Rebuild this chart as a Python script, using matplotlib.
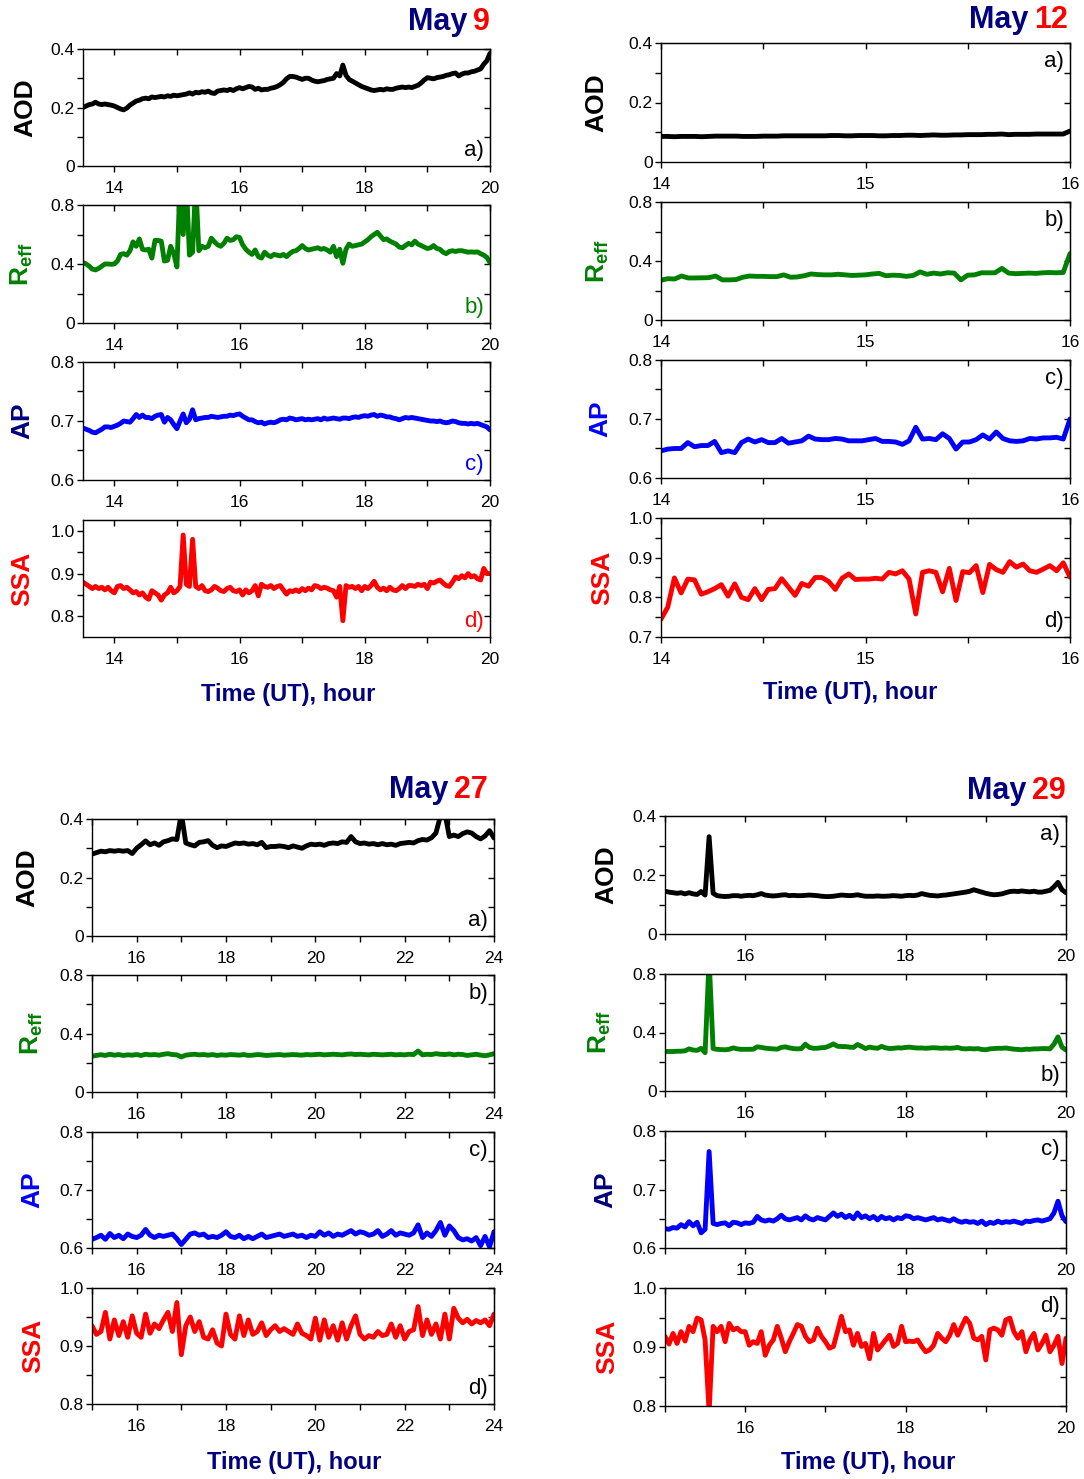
import numpy as np
import matplotlib
matplotlib.use("Agg")
import matplotlib.pyplot as plt
from matplotlib.ticker import FixedLocator, FuncFormatter, NullFormatter

plt.rcParams['font.family'] = ['Liberation Sans', 'DejaVu Sans']
plt.rcParams['mathtext.fontset'] = 'custom'
plt.rcParams['mathtext.rm'] = 'Liberation Sans'
plt.rcParams['mathtext.bf'] = 'Liberation Sans:bold'
plt.rcParams['mathtext.it'] = 'Liberation Sans:italic'

W, H = 1084, 1479
NAVY = '#000080'
GREEN = '#008000'
BLUE = '#0000ff'
RED = '#ff0000'

may9_span = (13.5, 20.0)
may9_aod = [
    0.200, 0.205, 0.210, 0.212, 0.218, 0.212, 0.210, 0.212, 0.210, 0.208,
    0.205, 0.200, 0.195, 0.192, 0.198, 0.208, 0.215, 0.222, 0.225, 0.230,
    0.232, 0.230, 0.236, 0.234, 0.236, 0.238, 0.236, 0.240, 0.238, 0.242,
    0.240, 0.242, 0.244, 0.246, 0.250, 0.246, 0.252, 0.250, 0.254, 0.252,
    0.256, 0.250, 0.248, 0.256, 0.258, 0.260, 0.258, 0.262, 0.258, 0.264,
    0.268, 0.264, 0.268, 0.272, 0.270, 0.262, 0.266, 0.260, 0.262, 0.262,
    0.266, 0.268, 0.272, 0.278, 0.286, 0.298, 0.306, 0.306, 0.304, 0.300,
    0.296, 0.300, 0.300, 0.294, 0.290, 0.288, 0.290, 0.292, 0.296, 0.298,
    0.300, 0.316, 0.308, 0.345, 0.310, 0.296, 0.290, 0.284, 0.278, 0.272,
    0.268, 0.264, 0.260, 0.258, 0.260, 0.262, 0.260, 0.264, 0.262, 0.262,
    0.266, 0.268, 0.270, 0.268, 0.270, 0.268, 0.272, 0.276, 0.284, 0.294,
    0.302, 0.300, 0.298, 0.302, 0.304, 0.306, 0.310, 0.312, 0.316, 0.318,
    0.308, 0.314, 0.318, 0.318, 0.322, 0.324, 0.328, 0.332, 0.348, 0.360,
    0.385]
may9_reff = [
    0.410, 0.400, 0.385, 0.365, 0.360, 0.370, 0.385, 0.400, 0.400, 0.398,
    0.400, 0.420, 0.465, 0.470, 0.460, 0.490, 0.550, 0.520, 0.570, 0.500,
    0.495, 0.500, 0.440, 0.560, 0.560, 0.555, 0.420, 0.425, 0.520, 0.470,
    0.380, 0.950, 0.600, 0.950, 0.460, 0.480, 0.950, 0.490, 0.520, 0.510,
    0.520, 0.575, 0.550, 0.530, 0.520, 0.540, 0.575, 0.560, 0.565, 0.585,
    0.580, 0.530, 0.500, 0.480, 0.465, 0.495, 0.450, 0.440, 0.480, 0.460,
    0.450, 0.465, 0.460, 0.455, 0.465, 0.450, 0.470, 0.485, 0.490, 0.505,
    0.525, 0.505, 0.495, 0.500, 0.505, 0.510, 0.500, 0.505, 0.495, 0.480,
    0.520, 0.450, 0.500, 0.405, 0.500, 0.535, 0.520, 0.525, 0.530, 0.535,
    0.550, 0.565, 0.585, 0.600, 0.615, 0.590, 0.565, 0.570, 0.555, 0.545,
    0.535, 0.515, 0.510, 0.525, 0.540, 0.530, 0.555, 0.535, 0.525, 0.515,
    0.505, 0.510, 0.525, 0.505, 0.500, 0.480, 0.470, 0.485, 0.490, 0.485,
    0.490, 0.490, 0.485, 0.480, 0.482, 0.480, 0.482, 0.470, 0.460, 0.445,
    0.410]
may9_ap = [
    0.688, 0.686, 0.684, 0.681, 0.680, 0.683, 0.686, 0.690, 0.690, 0.689,
    0.691, 0.693, 0.696, 0.700, 0.699, 0.698, 0.704, 0.711, 0.706, 0.710,
    0.706, 0.706, 0.704, 0.708, 0.710, 0.711, 0.698, 0.706, 0.702, 0.694,
    0.687, 0.700, 0.712, 0.697, 0.703, 0.719, 0.702, 0.704, 0.705, 0.706,
    0.706, 0.708, 0.707, 0.706, 0.707, 0.708, 0.708, 0.710, 0.709, 0.711,
    0.712, 0.708, 0.705, 0.702, 0.702, 0.699, 0.697, 0.698, 0.695, 0.697,
    0.698, 0.697, 0.699, 0.702, 0.703, 0.702, 0.705, 0.704, 0.702, 0.703,
    0.704, 0.702, 0.703, 0.702, 0.703, 0.704, 0.702, 0.705, 0.703, 0.704,
    0.705, 0.704, 0.703, 0.705, 0.705, 0.704, 0.706, 0.707, 0.706, 0.708,
    0.709, 0.708, 0.710, 0.711, 0.708, 0.710, 0.709, 0.707, 0.707, 0.705,
    0.704, 0.702, 0.704, 0.706, 0.705, 0.706, 0.705, 0.704, 0.703, 0.702,
    0.701, 0.700, 0.700, 0.699, 0.700, 0.698, 0.697, 0.698, 0.700, 0.699,
    0.697, 0.696, 0.696, 0.695, 0.696, 0.695, 0.696, 0.694, 0.692, 0.690,
    0.685]
may9_ssa = [
    0.880, 0.875, 0.870, 0.865, 0.870, 0.865, 0.868, 0.862, 0.868, 0.860,
    0.855, 0.870, 0.872, 0.865, 0.868, 0.862, 0.855, 0.858, 0.850, 0.855,
    0.845, 0.840, 0.860, 0.855, 0.850, 0.838, 0.850, 0.855, 0.868, 0.855,
    0.860, 0.870, 0.990, 0.875, 0.870, 0.980, 0.870, 0.865, 0.872, 0.860,
    0.858, 0.862, 0.870, 0.866, 0.860, 0.858, 0.865, 0.868, 0.860, 0.858,
    0.862, 0.850, 0.862, 0.855, 0.860, 0.872, 0.848, 0.875, 0.870, 0.868,
    0.872, 0.865, 0.870, 0.872, 0.862, 0.852, 0.860, 0.858, 0.862, 0.858,
    0.865, 0.860, 0.866, 0.862, 0.872, 0.870, 0.865, 0.868, 0.866, 0.862,
    0.860, 0.845, 0.870, 0.790, 0.872, 0.868, 0.870, 0.865, 0.870, 0.860,
    0.870, 0.865, 0.872, 0.882, 0.868, 0.862, 0.866, 0.860, 0.868, 0.862,
    0.860, 0.865, 0.872, 0.865, 0.872, 0.872, 0.870, 0.875, 0.872, 0.875,
    0.865, 0.880, 0.878, 0.882, 0.885, 0.878, 0.872, 0.870, 0.880, 0.892,
    0.888, 0.895, 0.890, 0.900, 0.892, 0.895, 0.888, 0.885, 0.912, 0.900,
    0.900]

may12_span = (14.0, 16.0)
may12_aod = [
    0.086, 0.086, 0.085, 0.086, 0.086, 0.086, 0.085, 0.086, 0.087, 0.087,
    0.087, 0.087, 0.086, 0.086, 0.086, 0.087, 0.087, 0.087, 0.088, 0.088,
    0.088, 0.088, 0.088, 0.088, 0.088, 0.089, 0.089, 0.088, 0.088, 0.089,
    0.089, 0.089, 0.088, 0.088, 0.089, 0.089, 0.090, 0.090, 0.089, 0.090,
    0.091, 0.090, 0.090, 0.091, 0.091, 0.092, 0.092, 0.092, 0.093, 0.093,
    0.094, 0.092, 0.093, 0.093, 0.093, 0.094, 0.094, 0.094, 0.094, 0.094,
    0.104]
may12_reff = [
    0.270, 0.280, 0.278, 0.298, 0.285, 0.285, 0.286, 0.287, 0.298, 0.272,
    0.272, 0.274, 0.290, 0.298, 0.296, 0.296, 0.294, 0.294, 0.306, 0.290,
    0.292, 0.300, 0.312, 0.308, 0.306, 0.306, 0.310, 0.306, 0.302, 0.304,
    0.306, 0.312, 0.316, 0.300, 0.304, 0.302, 0.296, 0.302, 0.326, 0.310,
    0.318, 0.312, 0.320, 0.318, 0.272, 0.304, 0.306, 0.320, 0.320, 0.320,
    0.350, 0.318, 0.314, 0.316, 0.318, 0.316, 0.320, 0.322, 0.320, 0.322,
    0.450]
may12_ap = [
    0.646, 0.649, 0.650, 0.650, 0.660, 0.653, 0.655, 0.655, 0.662, 0.643,
    0.646, 0.643, 0.660, 0.666, 0.661, 0.665, 0.660, 0.660, 0.667, 0.659,
    0.661, 0.663, 0.671, 0.666, 0.665, 0.665, 0.667, 0.666, 0.663, 0.663,
    0.663, 0.665, 0.667, 0.662, 0.662, 0.661, 0.657, 0.663, 0.686, 0.666,
    0.667, 0.665, 0.675, 0.667, 0.649, 0.661, 0.661, 0.665, 0.673, 0.666,
    0.678, 0.667, 0.663, 0.662, 0.663, 0.667, 0.666, 0.668, 0.668, 0.669,
    0.666, 0.700]
may12_ssa = [
    0.745, 0.775, 0.849, 0.811, 0.846, 0.844, 0.808, 0.814, 0.822, 0.832,
    0.803, 0.834, 0.800, 0.794, 0.822, 0.794, 0.820, 0.822, 0.847, 0.826,
    0.805, 0.835, 0.828, 0.850, 0.850, 0.840, 0.820, 0.848, 0.859, 0.845,
    0.846, 0.846, 0.848, 0.846, 0.863, 0.859, 0.867, 0.846, 0.758, 0.863,
    0.867, 0.863, 0.814, 0.873, 0.792, 0.865, 0.862, 0.880, 0.812, 0.883,
    0.870, 0.863, 0.890, 0.876, 0.884, 0.867, 0.863, 0.871, 0.880, 0.867,
    0.887, 0.851]

may27_span = (15.0, 24.0)
may27_aod = [
    0.280, 0.285, 0.290, 0.288, 0.292, 0.290, 0.292, 0.290, 0.292, 0.282,
    0.300, 0.312, 0.325, 0.312, 0.318, 0.310, 0.322, 0.326, 0.332, 0.330,
    0.420, 0.318, 0.312, 0.308, 0.320, 0.322, 0.326, 0.310, 0.302, 0.308,
    0.306, 0.312, 0.318, 0.316, 0.318, 0.314, 0.316, 0.312, 0.320, 0.302,
    0.306, 0.306, 0.308, 0.306, 0.302, 0.308, 0.304, 0.300, 0.308, 0.314,
    0.312, 0.314, 0.310, 0.316, 0.318, 0.316, 0.322, 0.320, 0.340, 0.322,
    0.316, 0.318, 0.314, 0.316, 0.312, 0.316, 0.312, 0.314, 0.310, 0.316,
    0.318, 0.320, 0.318, 0.326, 0.330, 0.328, 0.336, 0.352, 0.410, 0.420,
    0.340, 0.345, 0.340, 0.350, 0.356, 0.352, 0.340, 0.332, 0.342, 0.360,
    0.335]
may27_reff = [
    0.245, 0.250, 0.255, 0.250, 0.258, 0.252, 0.256, 0.250, 0.254, 0.252,
    0.256, 0.250, 0.258, 0.254, 0.256, 0.252, 0.258, 0.262, 0.256, 0.254,
    0.240, 0.252, 0.256, 0.258, 0.254, 0.256, 0.252, 0.256, 0.250, 0.254,
    0.252, 0.256, 0.254, 0.252, 0.256, 0.250, 0.252, 0.256, 0.254, 0.250,
    0.252, 0.254, 0.256, 0.252, 0.254, 0.256, 0.254, 0.252, 0.256, 0.254,
    0.256, 0.258, 0.254, 0.256, 0.258, 0.256, 0.254, 0.258, 0.260, 0.256,
    0.258, 0.256, 0.254, 0.258, 0.256, 0.254, 0.256, 0.258, 0.254, 0.256,
    0.254, 0.258, 0.256, 0.280, 0.254, 0.258, 0.256, 0.262, 0.258, 0.256,
    0.260, 0.254, 0.258, 0.256, 0.250, 0.254, 0.258, 0.252, 0.248, 0.254,
    0.262]
may27_ap = [
    0.615, 0.618, 0.622, 0.615, 0.625, 0.618, 0.622, 0.616, 0.624, 0.620,
    0.618, 0.622, 0.632, 0.622, 0.618, 0.622, 0.620, 0.622, 0.624, 0.616,
    0.606, 0.615, 0.624, 0.626, 0.622, 0.624, 0.618, 0.620, 0.618, 0.622,
    0.628, 0.620, 0.618, 0.622, 0.616, 0.620, 0.616, 0.620, 0.624, 0.618,
    0.620, 0.622, 0.624, 0.620, 0.622, 0.624, 0.620, 0.622, 0.618, 0.622,
    0.620, 0.628, 0.622, 0.626, 0.620, 0.624, 0.622, 0.626, 0.630, 0.624,
    0.628, 0.626, 0.622, 0.624, 0.630, 0.620, 0.624, 0.630, 0.622, 0.626,
    0.624, 0.622, 0.626, 0.640, 0.618, 0.626, 0.620, 0.630, 0.644, 0.622,
    0.638, 0.630, 0.618, 0.614, 0.616, 0.612, 0.618, 0.604, 0.620, 0.602,
    0.628]
may27_ssa = [
    0.935, 0.920, 0.925, 0.958, 0.912, 0.945, 0.918, 0.942, 0.915, 0.952,
    0.922, 0.915, 0.955, 0.922, 0.938, 0.930, 0.945, 0.958, 0.925, 0.975,
    0.885, 0.935, 0.950, 0.925, 0.942, 0.915, 0.912, 0.928, 0.905, 0.900,
    0.955, 0.920, 0.912, 0.952, 0.918, 0.945, 0.920, 0.925, 0.940, 0.918,
    0.928, 0.935, 0.925, 0.930, 0.925, 0.920, 0.938, 0.922, 0.918, 0.912,
    0.948, 0.910, 0.945, 0.915, 0.935, 0.910, 0.940, 0.912, 0.935, 0.952,
    0.920, 0.912, 0.918, 0.915, 0.925, 0.918, 0.920, 0.938, 0.915, 0.935,
    0.912, 0.925, 0.928, 0.968, 0.918, 0.945, 0.920, 0.938, 0.912, 0.955,
    0.912, 0.965, 0.948, 0.940, 0.946, 0.938, 0.944, 0.940, 0.945, 0.935,
    0.955]

may29_span = (15.0, 20.0)
may29_aod = [
    0.145, 0.142, 0.140, 0.138, 0.140, 0.136, 0.140, 0.136, 0.134, 0.144,
    0.132, 0.330, 0.138, 0.130, 0.128, 0.127, 0.128, 0.130, 0.130, 0.128,
    0.130, 0.131, 0.130, 0.133, 0.137, 0.132, 0.130, 0.129, 0.130, 0.132,
    0.133, 0.130, 0.131, 0.130, 0.130, 0.131, 0.132, 0.131, 0.130, 0.128,
    0.127, 0.127, 0.128, 0.130, 0.132, 0.131, 0.130, 0.131, 0.133, 0.130,
    0.128, 0.128, 0.128, 0.129, 0.128, 0.128, 0.129, 0.130, 0.129, 0.128,
    0.130, 0.131, 0.130, 0.132, 0.137, 0.134, 0.131, 0.130, 0.129, 0.131,
    0.132, 0.134, 0.136, 0.138, 0.140, 0.142, 0.145, 0.150, 0.146, 0.142,
    0.138, 0.135, 0.133, 0.134, 0.136, 0.140, 0.144, 0.145, 0.144, 0.146,
    0.144, 0.143, 0.145, 0.142, 0.142, 0.145, 0.148, 0.160, 0.175, 0.150,
    0.140]
may29_reff = [
    0.270, 0.270, 0.270, 0.272, 0.272, 0.275, 0.288, 0.280, 0.278, 0.292,
    0.262, 0.900, 0.290, 0.285, 0.283, 0.282, 0.285, 0.295, 0.288, 0.285,
    0.285, 0.285, 0.286, 0.302, 0.298, 0.293, 0.290, 0.288, 0.286, 0.298,
    0.302, 0.295, 0.290, 0.288, 0.290, 0.320, 0.298, 0.292, 0.292, 0.296,
    0.298, 0.308, 0.322, 0.306, 0.304, 0.304, 0.300, 0.298, 0.318, 0.305,
    0.290, 0.300, 0.295, 0.292, 0.305, 0.295, 0.290, 0.292, 0.295, 0.294,
    0.298, 0.300, 0.296, 0.294, 0.294, 0.292, 0.294, 0.296, 0.294, 0.292,
    0.294, 0.292, 0.294, 0.298, 0.290, 0.288, 0.290, 0.288, 0.290, 0.284,
    0.282, 0.288, 0.290, 0.292, 0.292, 0.294, 0.290, 0.286, 0.284, 0.282,
    0.286, 0.285, 0.288, 0.288, 0.290, 0.290, 0.288, 0.320, 0.370, 0.300,
    0.280]
may29_ap = [
    0.633, 0.632, 0.635, 0.634, 0.640, 0.636, 0.645, 0.638, 0.644, 0.626,
    0.632, 0.765, 0.642, 0.640, 0.642, 0.643, 0.638, 0.644, 0.643, 0.640,
    0.643, 0.642, 0.644, 0.654, 0.648, 0.646, 0.648, 0.646, 0.650, 0.656,
    0.650, 0.648, 0.650, 0.652, 0.648, 0.655, 0.650, 0.648, 0.652, 0.650,
    0.648, 0.654, 0.660, 0.654, 0.658, 0.652, 0.656, 0.650, 0.660, 0.652,
    0.655, 0.650, 0.654, 0.648, 0.654, 0.650, 0.652, 0.648, 0.652, 0.650,
    0.655, 0.654, 0.650, 0.652, 0.650, 0.648, 0.650, 0.652, 0.648, 0.650,
    0.648, 0.646, 0.650, 0.646, 0.644, 0.646, 0.644, 0.645, 0.642, 0.646,
    0.640, 0.644, 0.642, 0.646, 0.643, 0.645, 0.644, 0.646, 0.644, 0.642,
    0.646, 0.645, 0.647, 0.648, 0.646, 0.648, 0.650, 0.660, 0.680, 0.655,
    0.645]
may29_ssa = [
    0.918, 0.905, 0.923, 0.906, 0.926, 0.910, 0.935, 0.926, 0.949, 0.946,
    0.912, 0.790, 0.935, 0.926, 0.935, 0.909, 0.940, 0.929, 0.932, 0.926,
    0.926, 0.903, 0.909, 0.906, 0.926, 0.886, 0.903, 0.912, 0.935, 0.915,
    0.892, 0.909, 0.923, 0.938, 0.935, 0.918, 0.909, 0.912, 0.932, 0.918,
    0.909, 0.898, 0.901, 0.926, 0.952, 0.926, 0.929, 0.903, 0.923, 0.901,
    0.906, 0.880, 0.923, 0.895, 0.903, 0.912, 0.920, 0.901, 0.906, 0.935,
    0.909, 0.910, 0.909, 0.912, 0.901, 0.892, 0.895, 0.903, 0.923, 0.915,
    0.909, 0.920, 0.938, 0.920, 0.935, 0.949, 0.940, 0.915, 0.912, 0.918,
    0.878, 0.929, 0.932, 0.929, 0.920, 0.946, 0.949, 0.926, 0.915, 0.926,
    0.892, 0.912, 0.923, 0.895, 0.906, 0.920, 0.892, 0.903, 0.918, 0.872,
    0.915]

# ---------------- figure ----------------
fig = plt.figure(figsize=(W / 100, H / 100), dpi=100)


def px_axes(l, r, t, b):
    return fig.add_axes([l / W, 1 - b / H, (r - l) / W, (b - t) / H])


def yfmt(v, pos):
    return '0' if abs(v) < 1e-9 else f'{v:.1f}'


def xfmt(v, pos):
    return f'{v:g}'


def style_axis(ax, xmaj, xmin, ymaj, ymin):
    ax.xaxis.set_major_locator(FixedLocator(xmaj))
    ax.xaxis.set_minor_locator(FixedLocator(xmin))
    ax.yaxis.set_major_locator(FixedLocator(ymaj))
    ax.yaxis.set_minor_locator(FixedLocator(ymin))
    ax.xaxis.set_major_formatter(FuncFormatter(xfmt))
    ax.yaxis.set_major_formatter(FuncFormatter(yfmt))
    ax.tick_params(which='both', direction='out', length=4, width=1,
                   labelsize=12.5)
    ax.tick_params(axis='x', pad=7)
    ax.tick_params(axis='y', pad=2)
    for sp in ax.spines.values():
        sp.set_linewidth(1.0)
    top = ax.secondary_xaxis('top')
    top.xaxis.set_major_locator(FixedLocator(xmaj))
    top.xaxis.set_minor_locator(FixedLocator(xmin))
    top.xaxis.set_major_formatter(NullFormatter())
    top.tick_params(which='both', direction='in', length=4, width=1)
    right = ax.secondary_yaxis('right')
    right.yaxis.set_major_locator(FixedLocator(ymaj))
    right.yaxis.set_minor_locator(FixedLocator(ymin))
    right.yaxis.set_major_formatter(NullFormatter())
    right.tick_params(which='both', direction='in', length=4, width=1)


REFF = r'$\mathbf{R_{eff}}$'

blocks = [
    dict(span=may9_span, xl=83, xr=490,
         rows=[(49, 166), (205, 323), (362, 480), (520, 637)],
         xmaj=[14, 16, 18, 20], xmin=[15, 17, 19],
         lab_x=[25, 22, 22, 22], title='9', title_xy=(490, 22),
         xlabel_xy=(288, 694),
         series=[may9_aod, may9_reff, may9_ap, may9_ssa],
         ylims=[(0, 0.4), (0, 0.8), (0.6, 0.8), (0.752, 1.025)],
         labcol=['black', GREEN, NAVY, RED],
         letters=[('a)', 'lr', 'black'), ('b)', 'lr', GREEN),
                  ('c)', 'lr', BLUE), ('d)', 'lr', RED)]),
    dict(span=may12_span, xl=661, xr=1070,
         rows=[(43, 162), (202, 320), (360, 478), (518, 637)],
         xmaj=[14, 15, 16], xmin=[14.5, 15.5],
         lab_x=[596, 598, 600, 602], title='12', title_xy=(1068, 20),
         xlabel_xy=(850, 693),
         series=[may12_aod, may12_reff, may12_ap, may12_ssa],
         ylims=[(0, 0.4), (0, 0.8), (0.6, 0.8), (0.7, 1.0)],
         labcol=['black', GREEN, BLUE, RED],
         letters=[('a)', 'ur', 'black'), ('b)', 'ur', 'black'),
                  ('c)', 'ur', 'black'), ('d)', 'lr', 'black')]),
    dict(span=may27_span, xl=92, xr=494,
         rows=[(819, 936), (975, 1092), (1132, 1248), (1288, 1404)],
         xmaj=[16, 18, 20, 22, 24], xmin=[15, 17, 19, 21, 23],
         lab_x=[27, 32, 32, 33], title='27', title_xy=(488, 790),
         xlabel_xy=(294, 1462),
         series=[may27_aod, may27_reff, may27_ap, may27_ssa],
         ylims=[(0, 0.4), (0, 0.8), (0.6, 0.8), (0.8, 1.0)],
         labcol=['black', GREEN, BLUE, RED],
         letters=[('a)', 'lr', 'black'), ('b)', 'ur', 'black'),
                  ('c)', 'ur', 'black'), ('d)', 'lr', 'black')]),
    dict(span=may29_span, xl=665, xr=1066,
         rows=[(816, 934), (974, 1091), (1131, 1248), (1288, 1406)],
         xmaj=[16, 18, 20], xmin=[15, 17, 19],
         lab_x=[606, 600, 605, 607], title='29', title_xy=(1066, 791),
         xlabel_xy=(868, 1462),
         series=[may29_aod, may29_reff, may29_ap, may29_ssa],
         ylims=[(0, 0.4), (0, 0.8), (0.6, 0.8), (0.8, 1.0)],
         labcol=['black', GREEN, NAVY, RED],
         letters=[('a)', 'ur', 'black'), ('b)', 'lr', 'black'),
                  ('c)', 'ur', 'black'), ('d)', 'ur', 'black')]),
]

names = ['AOD', REFF, 'AP', 'SSA']
line_colors = ['black', GREEN, BLUE, RED]
ymajors = [[0, 0.2, 0.4], [0, 0.4, 0.8], [0.6, 0.7, 0.8], None]
yminors = [[0.1, 0.3], [0.2, 0.6], [0.65, 0.75], None]

renderer = fig.canvas.get_renderer()

for blk in blocks:
    t0, t1 = blk['span']
    for i, (top, bot) in enumerate(blk['rows']):
        ax = px_axes(blk['xl'], blk['xr'], top, bot)
        vals = blk['series'][i]
        t = np.linspace(t0, t1, len(vals))
        ax.plot(t, vals, color=line_colors[i], lw=3.5,
                solid_joinstyle='round', solid_capstyle='round')
        ax.set_xlim(t0, t1)
        lo, hi = blk['ylims'][i]
        ax.set_ylim(lo, hi)
        if i == 3:
            start = 0.7 if lo < 0.75 else 0.8
            ymaj = list(np.round(np.arange(start, 1.001, 0.1), 2))
            ymn = [round(v + 0.05, 2) for v in ymaj[:-1]]
        else:
            ymaj, ymn = ymajors[i], yminors[i]
        style_axis(ax, blk['xmaj'], blk['xmin'], ymaj, ymn)

        txt, pos, col = blk['letters'][i]
        if pos == 'lr':
            ax.text(0.985, 0.04, txt, transform=ax.transAxes, ha='right',
                    va='bottom', fontsize=16, color=col)
        else:
            ax.text(0.985, 0.93, txt, transform=ax.transAxes, ha='right',
                    va='top', fontsize=16, color=col)

        yc = (top + bot) / 2
        fig.text(blk['lab_x'][i] / W, 1 - yc / H, names[i], rotation=90,
                 ha='center', va='center', fontsize=19, fontweight='bold',
                 color=blk['labcol'][i])

    # title: "May" in navy, day number in red
    tx, ty = blk['title_xy']
    num = fig.text(tx / W, 1 - ty / H, blk['title'], color=RED, fontsize=22,
                   fontweight='bold', ha='right', va='center')
    bb = num.get_window_extent(renderer=renderer)
    fig.text((bb.x0 - 6) / W, 1 - ty / H, 'May', color=NAVY, fontsize=22,
             fontweight='bold', ha='right', va='center')

    lx, ly = blk['xlabel_xy']
    fig.text(lx / W, 1 - ly / H, 'Time (UT), hour', color=NAVY, fontsize=17,
             fontweight='bold', ha='center', va='center')

fig.savefig('out.png', dpi=100)
